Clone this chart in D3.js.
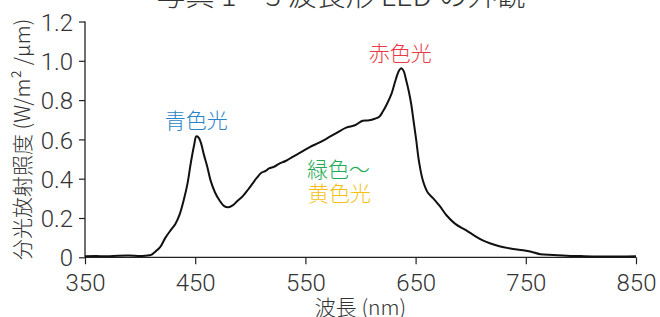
<!DOCTYPE html>
<html><head><meta charset="utf-8">
<script src="https://cdn.jsdelivr.net/npm/d3@7"></script>
<style>body{margin:0;background:#fff}svg{display:block}</style>
</head><body>
<svg id="c" width="660" height="317"></svg>
<script>
const title = "写真 1　3 波長形 LED の外観";
const xTicks = [350, 450, 550, 650, 750, 850];
const yTicks = [0, 0.2, 0.4, 0.6, 0.8, 1.0, 1.2];
const wavelength = [350,360,370,380,390,400,405,410,414,418,423,428,432,436,440,443,446,449,451,453,455,458,461,464,468,472,476,480,484,488,493,498,502,506,510,514,517,522,526,532,538,546,554,562,569,578,587,595,602,608,613,617,620,624,628,632,635,637,639,641.5,644,646,648,650.6,653,656.6,661,666,672,678,686,696,704,711,718,726,736,747.5,755,763,775,787,800,817,835,850];
const irradiance = [0.005,0.006,0.005,0.008,0.009,0.006,0.008,0.012,0.03,0.05,0.10,0.14,0.17,0.22,0.30,0.375,0.48,0.57,0.615,0.61,0.586,0.52,0.46,0.39,0.33,0.29,0.262,0.255,0.264,0.285,0.31,0.345,0.375,0.405,0.43,0.44,0.452,0.462,0.476,0.49,0.51,0.535,0.561,0.582,0.603,0.632,0.66,0.672,0.695,0.697,0.705,0.715,0.739,0.78,0.83,0.905,0.951,0.962,0.95,0.90,0.84,0.78,0.70,0.595,0.49,0.391,0.33,0.30,0.26,0.214,0.17,0.137,0.108,0.086,0.07,0.056,0.045,0.036,0.028,0.016,0.012,0.008,0.006,0.004,0.004,0.005];
const labels = [
  {text:"青色光", wl:451, v:0.705, color:"#2a85c8"},
  {text:"赤色光", wl:636, v:1.045, color:"#ea3a45"},
  {text:"緑色～", wl:580, v:0.455, color:"#1fab55"},
  {text:"黄色光", wl:581, v:0.33, color:"#f5bf16"}
];

const svg = d3.select("#c");
const cjk = "'Noto Sans CJK JP', 'Noto Sans', sans-serif";
const num = "Roboto, 'Liberation Sans', sans-serif";
const x = d3.scaleLinear().domain([350, 850]).range([85, 636]);
const y = d3.scaleLinear().domain([0, 1.2]).range([257.3, 21.5]);

svg.append("text").attr("x", 341).attr("y", 6).attr("text-anchor", "middle")
  .attr("font-family", cjk).attr("font-size", 29).attr("font-weight", 300).attr("fill", "#333").text(title);

const xa = svg.append("g").attr("transform", `translate(0,${y(0)})`)
  .call(d3.axisBottom(x).tickValues(xTicks).tickSize(7).tickPadding(4).tickFormat(d3.format("d")));
const ya = svg.append("g").attr("transform", `translate(${x(350)},0)`)
  .call(d3.axisLeft(y).tickValues(yTicks).tickSize(6).tickPadding(6).tickFormat(d => d === 0 ? "0" : d3.format(".1f")(d)));
[xa, ya].forEach(a => {
  a.select(".domain").attr("stroke", "#222").attr("stroke-width", 1.3);
  a.selectAll(".tick line").attr("stroke", "#222").attr("stroke-width", 1.2);
  a.selectAll("text").attr("font-family", num).attr("font-size", 24).attr("font-weight", 300).attr("fill", "#333");
});
xa.selectAll("text").attr("dy", "0.95em");
ya.selectAll("text").attr("dy", "0.36em");
xa.select(".domain").attr("d", `M${x(350)},0H${x(850)}`);
ya.select(".domain").attr("d", `M0,${y(1.2)}V${y(0)}`);

const line = d3.line().x((d, i) => x(wavelength[i])).y(d => y(d)).curve(d3.curveCatmullRom.alpha(0.5));
svg.append("path").datum(irradiance).attr("d", line).attr("fill", "none")
  .attr("stroke", "#111").attr("stroke-width", 2).attr("stroke-linejoin", "round");

labels.forEach(l => {
  svg.append("text").attr("x", x(l.wl)).attr("y", y(l.v)).attr("text-anchor", "middle")
    .attr("dominant-baseline", "central")
    .attr("font-family", cjk).attr("font-size", 21).attr("font-weight", 300).attr("fill", l.color).text(l.text);
});

svg.append("text").attr("x", (x(350) + x(850)) / 2).attr("y", 315).attr("text-anchor", "middle")
  .attr("font-family", cjk).attr("font-size", 21).attr("font-weight", 300).attr("fill", "#333").text("波長 (nm)");
svg.append("text").attr("transform", `translate(21,${(y(0) + y(1.2)) / 2}) rotate(-90)`).attr("text-anchor", "middle")
  .attr("dominant-baseline", "central")
  .attr("font-family", cjk).attr("font-size", 21).attr("font-weight", 300).attr("fill", "#333").text("分光放射照度 (W/m² /μm)");
</script>
</body></html>
